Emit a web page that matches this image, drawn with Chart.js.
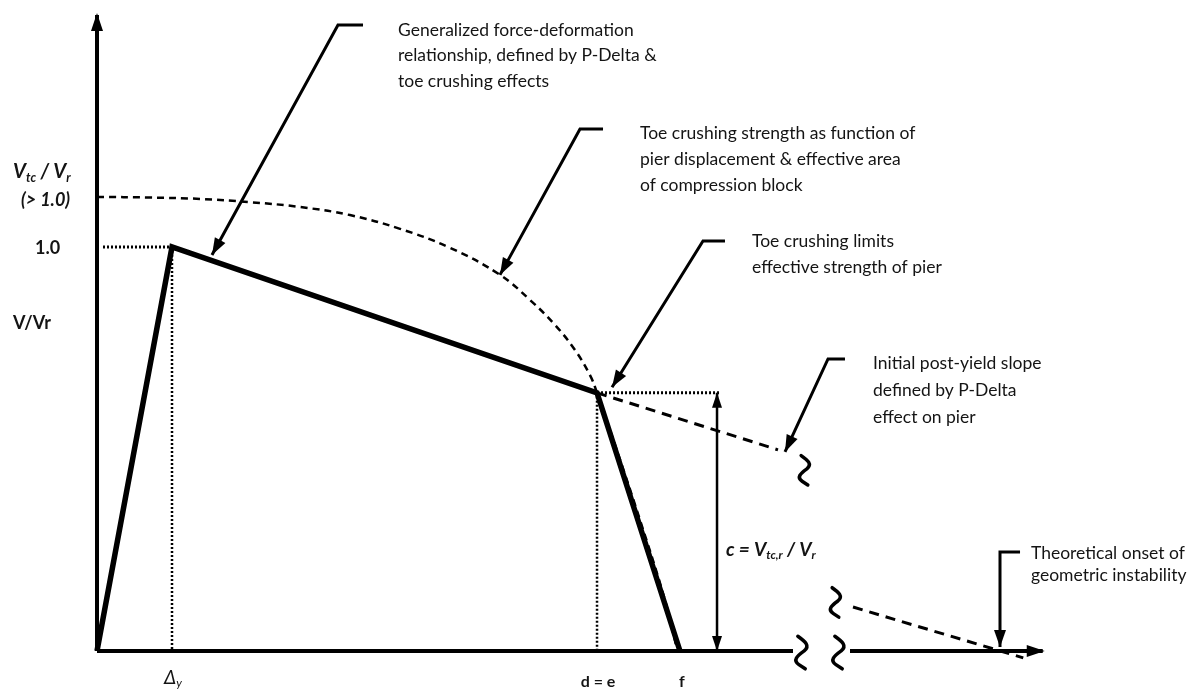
<!DOCTYPE html>
<html><head><meta charset="utf-8">
<script src="https://cdn.jsdelivr.net/npm/chart.js@4.4.1/dist/chart.umd.min.js"></script>
<style>html,body{margin:0;padding:0;background:#fff;}canvas{display:block;}</style>
</head><body>
<canvas id="c" width="1202" height="690"></canvas>
<script>
// ---------- values (displacement in units of Δy, strength as V/Vr) ----------
const backboneX = [0, 1.0, 6.667, 7.773];
const backboneY = [0, 1.0, 0.639, 0];
const toeCrushX = [0, 0.707, 1.373, 2.04, 2.707, 3.373, 4.04, 4.707, 5.373, 5.773, 6.107, 6.373, 6.573, 6.667, 6.907, 7.24, 7.573, 7.72];
const toeCrushY = [1.124, 1.1225, 1.119, 1.111, 1.099, 1.079, 1.045, 0.998, 0.931, 0.869, 0.807, 0.745, 0.683, 0.639, 0.51, 0.324, 0.126, 0.015];
const pDeltaUpperX = [6.667, 9.08];
const pDeltaUpperY = [0.639, 0.498];
const pDeltaLowerX = [10.08, 12.35];
const pDeltaLowerY = [0.109, -0.017];
const yieldDisp = 1.0, yieldStrength = 1.0;
const toeStrength = 1.124;
const crushDisp = 6.667, crushStrength = 0.639;
const failDisp = 7.773;
const instabilityDisp = 12.04;
const xTickLabels = ['Δy', 'd = e', 'f'];
const xTickValues = [yieldDisp, crushDisp, failDisp];
const yTickLabels = ['1.0'];
const calloutTexts = [
  ['Generalized force-deformation', 'relationship, defined by P-Delta &', 'toe crushing effects'],
  ['Toe crushing strength as function of', 'pier displacement & effective area', 'of compression block'],
  ['Toe crushing limits', 'effective strength of pier'],
  ['Initial post-yield slope', 'defined by P-Delta', 'effect on pier'],
  ['Theoretical onset of', 'geometric instability']
];

// ---------- layout (positions in data units) ----------
const AX = {yTop: 1.574, xBreak1: 9.28, xBreak2: 10.04, xEnd: 12.61};
const callouts = [
  {tip: [1.533, 0.980], corner: [3.213, 1.5495], bar: [3.547, 1.5495], text: [4.013, [30, 55, 81]]},
  {tip: [5.373, 0.931], corner: [6.44, 1.292], bar: [6.747, 1.292], text: [7.24, [133, 159, 185]]},
  {tip: [6.867, 0.653], corner: [8.08, 1.015], bar: [8.373, 1.015], text: [8.733, [241, 267]]},
  {tip: [9.173, 0.4926], corner: [9.747, 0.7228], bar: [9.973, 0.7228], text: [10.347, [363, 390, 417]]},
  {tip: [instabilityDisp, 0.01], corner: [instabilityDisp, 0.245], bar: [12.307, 0.245], text: [12.453, [553, 575]]}
];
const cArrowX = 8.267, dottedEnd = 8.31, oneLabelStart = 0.08;
const FONT = 'Lato, "Open Sans", sans-serif';

const pts = (xs, ys) => xs.map((x, i) => ({x, y: ys[i]}));
const line = (data, opt) => Object.assign({data, showLine: true, pointRadius: 0, borderColor: '#000', backgroundColor: '#000', borderWidth: 3, clip: false, tension: 0, fill: false}, opt || {});

const datasets = [
  // axes
  line([{x: 0, y: 0}, {x: 0, y: AX.yTop}], {borderWidth: 4}),
  line([{x: 0, y: 0}, {x: AX.xBreak1, y: 0}], {borderWidth: 4}),
  line([{x: AX.xBreak2, y: 0}, {x: AX.xEnd, y: 0}], {borderWidth: 4}),
  // dotted guides
  line([{x: oneLabelStart, y: yieldStrength}, {x: yieldDisp, y: yieldStrength}], {borderDash: [2, 2], borderWidth: 3}),
  line([{x: yieldDisp, y: yieldStrength}, {x: yieldDisp, y: 0}], {borderDash: [2, 2], borderWidth: 2.5}),
  line([{x: crushDisp, y: crushStrength}, {x: crushDisp, y: 0}], {borderDash: [2, 2], borderWidth: 2.5}),
  line([{x: crushDisp, y: crushStrength}, {x: dottedEnd, y: crushStrength}], {borderDash: [2, 2], borderWidth: 3}),
  // toe crushing strength curve
  line(pts(toeCrushX, toeCrushY), {borderDash: [7, 5], borderWidth: 2.5, tension: 0.4}),
  // P-Delta slope
  line(pts(pDeltaUpperX, pDeltaUpperY), {borderDash: [10, 7], borderWidth: 3}),
  line(pts(pDeltaLowerX, pDeltaLowerY), {borderDash: [10, 7], borderWidth: 3}),
  // backbone
  line(pts(backboneX, backboneY), {borderWidth: 5.5, borderJoinStyle: 'miter'}),
  // c arrow
  line([{x: cArrowX, y: crushStrength}, {x: cArrowX, y: 0}], {borderWidth: 2.5}),
];
callouts.forEach(c => datasets.push(line([{x: c.bar[0], y: c.bar[1]}, {x: c.corner[0], y: c.corner[1]}, {x: c.tip[0], y: c.tip[1]}], {borderWidth: 3})));

function arrowHead(ctx, fx, fy, tx, ty, len, hw) {
  const a = Math.atan2(ty - fy, tx - fx);
  ctx.save();
  ctx.translate(tx, ty); ctx.rotate(a);
  ctx.beginPath(); ctx.moveTo(0, 0); ctx.lineTo(-len, hw); ctx.lineTo(-len, -hw); ctx.closePath();
  ctx.fillStyle = '#000'; ctx.fill();
  ctx.restore();
}
function squiggle(ctx, cx, cy, s) {
  ctx.save();
  ctx.translate(cx, cy); ctx.scale(s, s);
  ctx.beginPath();
  ctx.moveTo(-3, -15);
  ctx.bezierCurveTo(4, -10, 9, -6, 3, -1);
  ctx.bezierCurveTo(-4, 4, -8, 8, -2, 12);
  ctx.lineTo(4, 16);
  ctx.lineWidth = 3.5 / s; ctx.strokeStyle = '#000'; ctx.lineCap = 'round';
  ctx.stroke();
  ctx.restore();
}
function rich(ctx, x, y, parts, size, style) {
  let cx = x;
  parts.forEach(p => {
    const sz = p.sub ? size * 0.62 : size;
    ctx.font = `${style} ${sz}px ${FONT}`;
    ctx.fillText(p.t, cx, p.sub ? y + size * 0.3 : y);
    cx += ctx.measureText(p.t).width;
  });
}

const decor = {
  id: 'decor',
  afterDatasetsDraw(chart) {
    const ctx = chart.ctx, X = v => chart.scales.x.getPixelForValue(v), Y = v => chart.scales.y.getPixelForValue(v);
    ctx.save();
    // axis arrows
    arrowHead(ctx, X(0), Y(0), X(0), Y(AX.yTop) - 2, 18, 6);
    arrowHead(ctx, X(0), Y(0), X(AX.xEnd) + 2, Y(0), 18, 6);
    // callout arrowheads
    callouts.forEach(c => arrowHead(ctx, X(c.corner[0]), Y(c.corner[1]), X(c.tip[0]), Y(c.tip[1]), 17, 6));
    // c double arrow
    arrowHead(ctx, X(cArrowX), Y(0), X(cArrowX), Y(crushStrength), 15, 5);
    arrowHead(ctx, X(cArrowX), Y(crushStrength), X(cArrowX), Y(0), 15, 5);
    // break symbols
    squiggle(ctx, X(AX.xBreak1) + 8, Y(0) + 1, 1.05);
    squiggle(ctx, X(AX.xBreak2) - 12, Y(0) + 1, 1.05);
    squiggle(ctx, X(pDeltaUpperX[1]) + 26, Y(pDeltaUpperY[1]) + 20, 0.95);
    squiggle(ctx, X(pDeltaLowerX[0]) - 18, Y(pDeltaLowerY[0]) - 5, 0.95);
    // callout texts
    ctx.fillStyle = '#141414'; ctx.textBaseline = 'middle'; ctx.textAlign = 'left';
    ctx.font = `17.5px ${FONT}`;
    callouts.forEach((c, i) => calloutTexts[i].forEach((t, j) => ctx.fillText(t, X(c.text[0]), c.text[1][j])));
    // y labels
    rich(ctx, 13, 172, [{t: 'V'}, {t: 'tc', sub: true}, {t: ' / '}, {t: 'V'}, {t: 'r', sub: true}], 20, 'italic bold');
    ctx.font = `italic bold 18px ${FONT}`;
    ctx.fillText('(> ' + '1.0)', 21, 200);
    ctx.font = `bold 18px ${FONT}`;
    ctx.fillText(yTickLabels[0], 35, Y(yieldStrength) + 1);
    ctx.fillText('V/Vr', 13, 323);
    // x labels
    ctx.textAlign = 'center';
    ctx.font = `bold 16px ${FONT}`;
    ctx.fillText(xTickLabels[1], X(xTickValues[1]) + 1, 682);
    ctx.fillText(xTickLabels[2], X(xTickValues[2]) + 2, 682);
    ctx.textAlign = 'left';
    rich(ctx, X(xTickValues[0]) - 8, 678, [{t: 'Δ'}, {t: 'y', sub: true}], 19, 'italic');
    // c label
    rich(ctx, X(cArrowX) + 9, 550, [{t: 'c = V'}, {t: 'tc,r', sub: true}, {t: ' / '}, {t: 'V'}, {t: 'r', sub: true}], 19, 'italic bold');
    ctx.restore();
  }
};

new Chart(document.getElementById('c'), {
  type: 'scatter',
  data: {datasets},
  options: {
    responsive: false, animation: false,
    layout: {padding: 0},
    plugins: {legend: {display: false}, tooltip: {enabled: false}},
    scales: {
      x: {type: 'linear', display: false, min: -97 / 75, max: (1202 - 97) / 75},
      y: {type: 'linear', display: false, min: -39 / 404, max: 651 / 404}
    }
  },
  plugins: [decor]
});
</script>
</body></html>
